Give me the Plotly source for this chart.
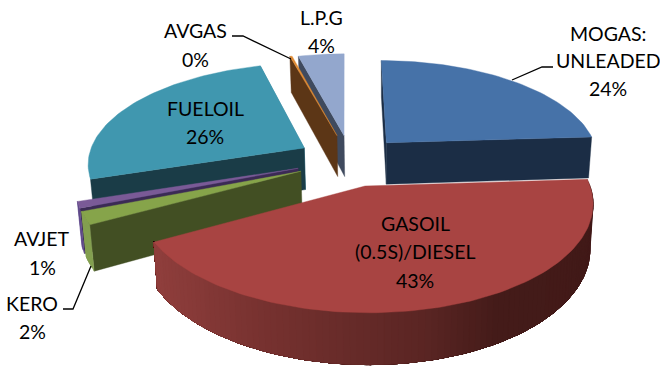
import math
import plotly.graph_objects as go

# Fuel shares, clockwise from twelve o'clock
products = ["MOGAS:\nUNLEADED", "GASOIL\n(0.5S)/DIESEL", "KERO", "AVJET", "FUELOIL", "AVGAS", "L.P.G"]
shares = [24.0, 43.0, 2.0, 1.0, 25.8, 0.2, 4.0]

# Per-slice drawing style: exploded centre, radius scale, face colours, visible cut walls (start/end edge) and rim
styles = {
    "L.P.G": dict(c=(-1, 113), r=1.0, top="#93a7cd", cuts=[(0, "#3f4a5e")], rim=None),
    "AVGAS": dict(c=(-8.6, 113), r=1.0, top="#e08a32", cuts=[(0, "#5c3616")], rim=None),
    "MOGAS:\nUNLEADED": dict(c=(44, 96), r=0.983, top="#4672a8", cuts=[(0, "#1b2d45"), (1, "#1b2d45")], rim=None),
    "FUELOIL": dict(c=(-43, 84), r=1.0, top="#4097af", cuts=[(1, "#3a87a0"), (0, "#1a3c47")], rim=None),
    "AVJET": dict(c=(-48, 38), r=1.0, top="#7a5a97", cuts=[(0, "#3b2a55")], rim="#5f4a8a"),
    "KERO": dict(c=(-45, 31.5), r=1.0, top="#86a44a", cuts=[(0, "#424f23")], rim="#84a050"),
    "GASOIL\n(0.5S)/DIESEL": dict(c=(20, 0), r=1.0, top="#a84442", cuts=[], rim="shade"),
}
paint_order = ["L.P.G", "AVGAS", "MOGAS:\nUNLEADED", "FUELOIL", "AVJET", "KERO", "GASOIL\n(0.5S)/DIESEL"]

# Label line centres (x, first line y, line gap) and leader polylines
label_pos = {
    "MOGAS:\nUNLEADED": (608, 33, 27.5),
    "GASOIL\n(0.5S)/DIESEL": (415, 223, 28.5),
    "KERO": (32, 303, 28),
    "AVJET": (42, 238, 29),
    "FUELOIL": (205, 108, 28),
    "AVGAS": (195, 30, 29),
    "L.P.G": (321, 17, 28),
}
leaders = [
    ([232, 243, 291], [36, 36, 59]),
    ([553, 542, 512], [67, 67, 80]),
    ([63, 73, 91], [309, 309, 266]),
]

# Projection of the tilted disc onto the page
RADIUS, TILT, PERSP, DEPTH = 225.0, 0.479, 0.15, 44.0
VAN_X, HORIZON_Y, FOOT_X, FOOT_SCALE = 345.0, 186.0, 385.0, 0.985


def project(wx, wy, lower=False):
    w = 1.0 / (1.0 + PERSP * wy / RADIUS)
    sx = VAN_X + wx * w
    sy = HORIZON_Y - TILT * wy * w
    if lower:
        sx = FOOT_X + (sx - FOOT_X) * FOOT_SCALE
        sy += DEPTH * w
    return sx, sy


def rim_point(st, deg, lower=False):
    t = math.radians(deg)
    c, r = st["c"], RADIUS * st["r"]
    return project(c[0] + r * math.sin(t), c[1] + r * math.cos(t), lower)


def poly(pts, color, edge=0.4):
    xs = [p[0] for p in pts] + [pts[0][0]]
    ys = [p[1] for p in pts] + [pts[0][1]]
    return go.Scatter(x=xs, y=ys, mode="lines", fill="toself", fillcolor=color,
                      line=dict(color=color, width=edge), hoverinfo="skip", showlegend=False)


def mix(stops, x):
    if x <= stops[0][0]:
        return stops[0][1]
    for (x0, c0), (x1, c1) in zip(stops, stops[1:]):
        if x <= x1:
            f = (x - x0) / (x1 - x0)
            rgb = [round(int(c0[i:i + 2], 16) * (1 - f) + int(c1[i:i + 2], 16) * f) for i in (1, 3, 5)]
            return "rgb(%d,%d,%d)" % tuple(rgb)
    return stops[-1][1]


gasoil_shade = [(158, "#8f3e3c"), (250, "#7a3331"), (340, "#692c2a"), (430, "#5a2523"), (500, "#441b19"), (595, "#421a18")]

fig = go.Figure()

# Slice angles come straight from the shares
total = sum(shares)
angles = {}
running = 0.0
for name, v in zip(products, shares):
    angles[name] = (running / total * 360.0, (running + v) / total * 360.0)
    running += v

for name in paint_order:
    st = styles[name]
    a0, a1 = angles[name]
    tip_t, tip_b = project(*st["c"]), project(*st["c"], True)
    steps = max(2, int((a1 - a0) / 1.5))
    degs = [a0 + (a1 - a0) * i / steps for i in range(steps + 1)]

    for which, color in st["cuts"]:
        edge = a1 if which else a0
        fig.add_trace(poly([tip_t, rim_point(st, edge), rim_point(st, edge, True), tip_b], color))

    # Outer wall: each strip reaches to the end of the arc so the next one paints over it without seams
    if st["rim"]:
        for i, d0 in enumerate(degs[:-1]):
            rest = degs[i:]
            top_edge = [rim_point(st, d) for d in rest]
            low_edge = [rim_point(st, d, True) for d in reversed(rest)]
            if st["rim"] == "shade":
                color = mix(gasoil_shade, rim_point(st, d0)[0])
            else:
                color = st["rim"]
            fig.add_trace(poly(top_edge + low_edge, color))

    # Top face
    fig.add_trace(poly([tip_t] + [rim_point(st, d) for d in degs], st["top"]))

# Leader lines
for xs, ys in leaders:
    fig.add_trace(go.Scatter(x=xs, y=ys, mode="lines", line=dict(color="#000000", width=1.3),
                             hoverinfo="skip", showlegend=False))

# Labels: name lines then the rounded share
for name, v in zip(products, shares):
    x, y, gap = label_pos[name]
    for i, line in enumerate(name.split("\n") + [f"{round(v / total * 100)}%"]):
        fig.add_annotation(x=x, y=y + i * gap, text=line, showarrow=False, xanchor="center", yanchor="middle",
                           font=dict(family="Lato", size=19.5, color="#000000"))

fig.update_layout(
    width=660, height=367, margin=dict(l=0, r=0, t=0, b=0),
    paper_bgcolor="#ffffff", plot_bgcolor="#ffffff", showlegend=False,
    xaxis=dict(range=[0, 660], visible=False, fixedrange=True),
    yaxis=dict(range=[367, 0], visible=False, fixedrange=True),
)
fig.write_html("out.html")
